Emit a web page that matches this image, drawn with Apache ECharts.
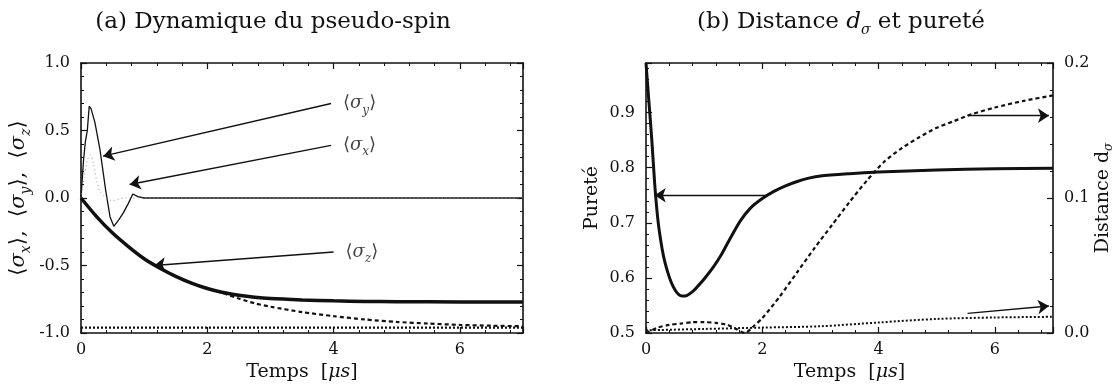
<!DOCTYPE html>
<html>
<head>
<meta charset="utf-8">
<script src="https://cdn.jsdelivr.net/npm/echarts@6/dist/echarts.min.js"></script>
<style>
  html, body { margin: 0; padding: 0; background: #fff; }
  #chart { width: 1117px; height: 387px; }
</style>
</head>
<body>
<div id="chart"></div>
<script>
// ---------- (a) pseudo-spin dynamics, time in µs ----------
const tSigmaY = [0, 0.01, 0.04, 0.07, 0.1, 0.13, 0.16, 0.22, 0.3, 0.39, 0.46, 0.52, 0.6, 0.67, 0.75, 0.82, 0.9, 1.0, 1.5, 2, 3, 4, 5, 6, 7];
const sigmaY  = [0, 0.01, 0.28, 0.42, 0.5, 0.68, 0.66, 0.56, 0.36, 0.06, -0.14, -0.21, -0.16, -0.11, -0.04, 0.03, 0.01, 0, 0, 0, 0, 0, 0, 0, 0];

const tSigmaX = [0, 0.05, 0.1, 0.15, 0.2, 0.25, 0.3, 0.4, 0.5, 0.7, 1, 7];
const sigmaX  = [0, 0.15, 0.28, 0.32, 0.25, 0.12, 0.05, 0.0, -0.02, 0.0, 0, 0];

const tSigmaZ = [0, 0.25, 0.5, 0.75, 1, 1.25, 1.5, 1.75, 2, 2.25, 2.5, 2.75, 3, 3.5, 4, 4.5, 5, 6, 7];
const sigmaZ  = [0, -0.14, -0.26, -0.36, -0.45, -0.52, -0.58, -0.63, -0.67, -0.70, -0.72, -0.735, -0.745, -0.755, -0.762, -0.766, -0.768, -0.77, -0.77];

const tDashA = [0, 0.25, 0.5, 0.75, 1, 1.25, 1.5, 1.75, 2, 2.25, 2.5, 2.75, 3, 3.5, 4, 4.5, 5, 5.5, 6, 6.5, 7];
const dashA  = [0, -0.14, -0.26, -0.36, -0.45, -0.52, -0.58, -0.63, -0.67, -0.705, -0.745, -0.78, -0.805, -0.845, -0.875, -0.90, -0.918, -0.93, -0.94, -0.946, -0.95];

const tDotA = [0, 1, 2, 3, 4, 5, 6, 7];
const dotA  = [-0.96, -0.96, -0.96, -0.96, -0.96, -0.96, -0.96, -0.96];

// annotation arrows (start -> end) and their labels
const arrowSigmaY = [[3.96, 0.70], [0.35, 0.31]];
const arrowSigmaX = [[3.96, 0.39], [0.77, 0.10]];
const arrowSigmaZ = [[4.0, -0.40], [1.16, -0.50]];
const labelsA = [
  { pos: [3.96, 0.70], sub: 'y' },
  { pos: [3.96, 0.39], sub: 'x' },
  { pos: [4.0, -0.40], sub: 'z' }
];

// ---------- (b) distance and purity ----------
const tPurity = [0, 0.05, 0.1, 0.15, 0.2, 0.25, 0.3, 0.36, 0.43, 0.5, 0.56, 0.62, 0.7, 0.8, 0.9, 1.0, 1.16, 1.3, 1.45, 1.62, 1.8, 2.0, 2.2, 2.4, 2.6, 2.8, 3.0, 3.5, 4, 5, 6, 7];
const purity  = [0.99, 0.92, 0.85, 0.77, 0.71, 0.67, 0.64, 0.615, 0.593, 0.578, 0.570, 0.567, 0.568, 0.575, 0.586, 0.598, 0.62, 0.643, 0.672, 0.703, 0.727, 0.744, 0.757, 0.767, 0.775, 0.781, 0.785, 0.789, 0.792, 0.796, 0.798, 0.799];

const tDistance = [0, 0.2, 0.4, 0.6, 0.8, 1.0, 1.2, 1.4, 1.55, 1.7, 1.85, 2.0, 2.3, 2.6, 2.9, 3.2, 3.5, 3.8, 4.1, 4.4, 4.7, 5.0, 5.3, 5.6, 6.0, 6.5, 7.0];
const distance  = [0, 0.004, 0.006, 0.007, 0.008, 0.008, 0.0075, 0.006, 0.003, 0.0, 0.005, 0.011, 0.027, 0.045, 0.063, 0.08, 0.097, 0.113, 0.127, 0.137, 0.145, 0.152, 0.157, 0.162, 0.167, 0.172, 0.176];

const tDotB = [0, 1, 2, 3, 4, 5, 6, 7];
const dotB  = [0.002, 0.003, 0.004, 0.005, 0.0078, 0.0104, 0.0115, 0.012];

const arrowPurity   = [[2.08, 0.75], [0.15, 0.75]];
const arrowDistance = [[5.53, 0.161], [6.93, 0.161]];
const arrowDotB     = [[5.53, 0.0146], [6.93, 0.020]];

const pairs = (t, v) => t.map((x, i) => [x, v[i]]);

const FONT = 'DejaVu Serif';
const BLACK = '#111';

function arrowLine(a) {
  return {
    silent: true,
    animation: false,
    symbol: ['none', 'arrow'],
    symbolSize: 11,
    lineStyle: { color: BLACK, width: 1.3, type: 'solid' },
    itemStyle: { color: BLACK },
    label: { show: false },
    emphasis: { disabled: true },
    data: [[{ coord: a[0] }, { coord: a[1] }]]
  };
}

const richMath = {
  m:  { fontFamily: FONT, fontSize: 18, color: BLACK, lineHeight: 26, verticalAlign: 'middle' },
  s:  { fontFamily: FONT, fontSize: 18, fontStyle: 'italic', color: BLACK, lineHeight: 26, verticalAlign: 'middle' },
  b:  { fontFamily: FONT, fontSize: 12, fontStyle: 'italic', color: BLACK, lineHeight: 15, verticalAlign: 'bottom' }
};

const richAxisName = {
  m:  { fontFamily: FONT, fontSize: 21, color: BLACK, lineHeight: 28, verticalAlign: 'middle' },
  s:  { fontFamily: FONT, fontSize: 21, fontStyle: 'italic', color: BLACK, lineHeight: 28, verticalAlign: 'middle' },
  b:  { fontFamily: FONT, fontSize: 14, fontStyle: 'italic', color: BLACK, lineHeight: 17, verticalAlign: 'bottom' }
};

function xAxisFor(gridIndex, bottom) {
  return {
    type: 'value', gridIndex, position: bottom ? 'bottom' : 'top',
    min: 0, max: 7, interval: 2,
    axisLine: { show: true, onZero: false, lineStyle: { color: BLACK, width: 1.6 } },
    axisTick: { show: true, inside: true, length: 6, lineStyle: { color: BLACK, width: 1.2 } },
    minorTick: { show: true, splitNumber: 5, length: 3, lineStyle: { color: BLACK, width: 1 } },
    splitLine: { show: false },
    axisLabel: bottom ? { show: true, showMaxLabel: false, fontFamily: FONT, fontSize: 16, color: BLACK, margin: 9 } : { show: false },
    name: bottom ? '{m|Temps  [}{s|μs}{m|]}' : '',
    nameLocation: 'middle', nameGap: 19,
    nameTextStyle: { rich: { m: { fontFamily: FONT, fontSize: 19, color: BLACK }, s: { fontFamily: FONT, fontSize: 19, fontStyle: 'italic', color: BLACK } } }
  };
}

function yAxisFor(gridIndex, position, min, max, interval, showLabel, extra) {
  return Object.assign({
    type: 'value', gridIndex, position, min, max, interval,
    axisLine: { show: true, onZero: false, lineStyle: { color: BLACK, width: 1.6 } },
    axisTick: { show: true, inside: true, length: 6, lineStyle: { color: BLACK, width: 1.2 } },
    minorTick: { show: true, splitNumber: 5, length: 3, lineStyle: { color: BLACK, width: 1 } },
    splitLine: { show: false },
    axisLabel: showLabel ? { show: true, showMaxLabel: (max * 10) % 1 === 0, fontFamily: FONT, fontSize: 16, color: BLACK, margin: 11,
      formatter: v => v.toFixed(1) } : { show: false }
  }, extra || {});
}

const chart = echarts.init(document.getElementById('chart'), null, { renderer: 'canvas' });

const option = {
  backgroundColor: '#fff',
  animation: false,
  grid: [
    { left: 81, top: 63, width: 442, height: 270 },
    { left: 646, top: 63, width: 407, height: 270 }
  ],
  xAxis: [xAxisFor(0, true), xAxisFor(0, false), xAxisFor(1, true), xAxisFor(1, false)],
  yAxis: [
    yAxisFor(0, 'left', -1, 1, 0.5, true, {
      name: '{m|⟨}{s|σ}{b|x}{m|⟩,  ⟨}{s|σ}{b|y}{m|⟩,  ⟨}{s|σ}{b|z}{m|⟩}',
      nameLocation: 'middle', nameRotate: 90, nameGap: 48,
      nameTextStyle: { rich: richAxisName }
    }),
    yAxisFor(0, 'right', -1, 1, 0.5, false),
    yAxisFor(1, 'left', 0.5, 0.99, 0.1, true, {
      name: 'Pureté', nameLocation: 'middle', nameRotate: 90, nameGap: 44,
      nameTextStyle: { fontFamily: FONT, fontSize: 19, color: BLACK }
    }),
    yAxisFor(1, 'right', 0, 0.2, 0.1, true, {
      name: '{m|Distance d}{b|σ}',
      nameLocation: 'middle', nameRotate: 90, nameGap: 26,
      nameTextStyle: { rich: {
        m: { fontFamily: FONT, fontSize: 19, color: BLACK, lineHeight: 24, verticalAlign: 'middle' },
        b: { fontFamily: FONT, fontSize: 12, fontStyle: 'italic', color: BLACK, lineHeight: 14, verticalAlign: 'bottom' }
      } }
    })
  ],
  graphic: [
    {
      type: 'text', x: 273, y: 22, silent: true,
      style: {
        text: '(a) Dynamique du pseudo-spin', fontFamily: FONT, fontSize: 23, fill: BLACK,
        align: 'center', verticalAlign: 'middle'
      }
    },
    {
      type: 'text', x: 841, y: 22, silent: true,
      style: {
        text: '{m|(b) Distance }{i|d}{b|σ}{m| et pureté}',
        align: 'center', verticalAlign: 'middle',
        rich: {
          m: { fontFamily: FONT, fontSize: 23, fill: BLACK, lineHeight: 30, verticalAlign: 'middle' },
          i: { fontFamily: FONT, fontSize: 23, fontStyle: 'italic', fill: BLACK, lineHeight: 30, verticalAlign: 'middle' },
          b: { fontFamily: FONT, fontSize: 14, fontStyle: 'italic', fill: BLACK, lineHeight: 17, verticalAlign: 'bottom' }
        }
      }
    }
  ],
  series: [
    {
      name: 'sigma_y', type: 'line', xAxisIndex: 0, yAxisIndex: 0,
      data: pairs(tSigmaY, sigmaY), showSymbol: false, smooth: false,
      lineStyle: { color: BLACK, width: 1.3 },
      markLine: arrowLine(arrowSigmaY)
    },
    {
      name: 'sigma_x', type: 'line', xAxisIndex: 0, yAxisIndex: 0,
      data: pairs(tSigmaX, sigmaX), showSymbol: false, smooth: 0.3,
      lineStyle: { color: '#999', width: 1, type: [1, 3] },
      markLine: arrowLine(arrowSigmaX)
    },
    {
      name: 'sigma_z', type: 'line', xAxisIndex: 0, yAxisIndex: 0,
      data: pairs(tSigmaZ, sigmaZ), showSymbol: false, smooth: 0.25,
      lineStyle: { color: BLACK, width: 3.5 }, z: 3,
      markLine: arrowLine(arrowSigmaZ)
    },
    {
      name: 'dashed_a', type: 'line', xAxisIndex: 0, yAxisIndex: 0,
      data: pairs(tDashA, dashA), showSymbol: false, smooth: 0.25,
      lineStyle: { color: BLACK, width: 2.2, type: [4, 3] }
    },
    {
      name: 'dotted_a', type: 'line', xAxisIndex: 0, yAxisIndex: 0,
      data: pairs(tDotA, dotA), showSymbol: false,
      lineStyle: { color: BLACK, width: 2.2, type: [2, 2] }
    },
    {
      name: 'labels_a', type: 'scatter', xAxisIndex: 0, yAxisIndex: 0,
      symbolSize: 0, silent: true,
      data: labelsA.map(d => ({ value: d.pos, sub: d.sub })),
      label: {
        show: true, position: 'right', distance: 12,
        formatter: p => '{m|⟨}{s|σ}{b|' + p.data.sub + '}{m|⟩}',
        rich: richMath
      }
    },
    {
      name: 'purity', type: 'line', xAxisIndex: 2, yAxisIndex: 2,
      data: pairs(tPurity, purity), showSymbol: false, smooth: 0.25,
      lineStyle: { color: BLACK, width: 3 }, z: 3,
      markLine: arrowLine(arrowPurity)
    },
    {
      name: 'distance', type: 'line', xAxisIndex: 2, yAxisIndex: 3,
      data: pairs(tDistance, distance), showSymbol: false, smooth: 0.25,
      lineStyle: { color: BLACK, width: 2.2, type: [4, 3] },
      markLine: arrowLine(arrowDistance)
    },
    {
      name: 'dotted_b', type: 'line', xAxisIndex: 2, yAxisIndex: 3,
      data: pairs(tDotB, dotB), showSymbol: false, smooth: 0.3,
      lineStyle: { color: BLACK, width: 2, type: [2, 2] },
      markLine: arrowLine(arrowDotB)
    }
  ]
};

chart.setOption(option);
</script>
</body>
</html>
